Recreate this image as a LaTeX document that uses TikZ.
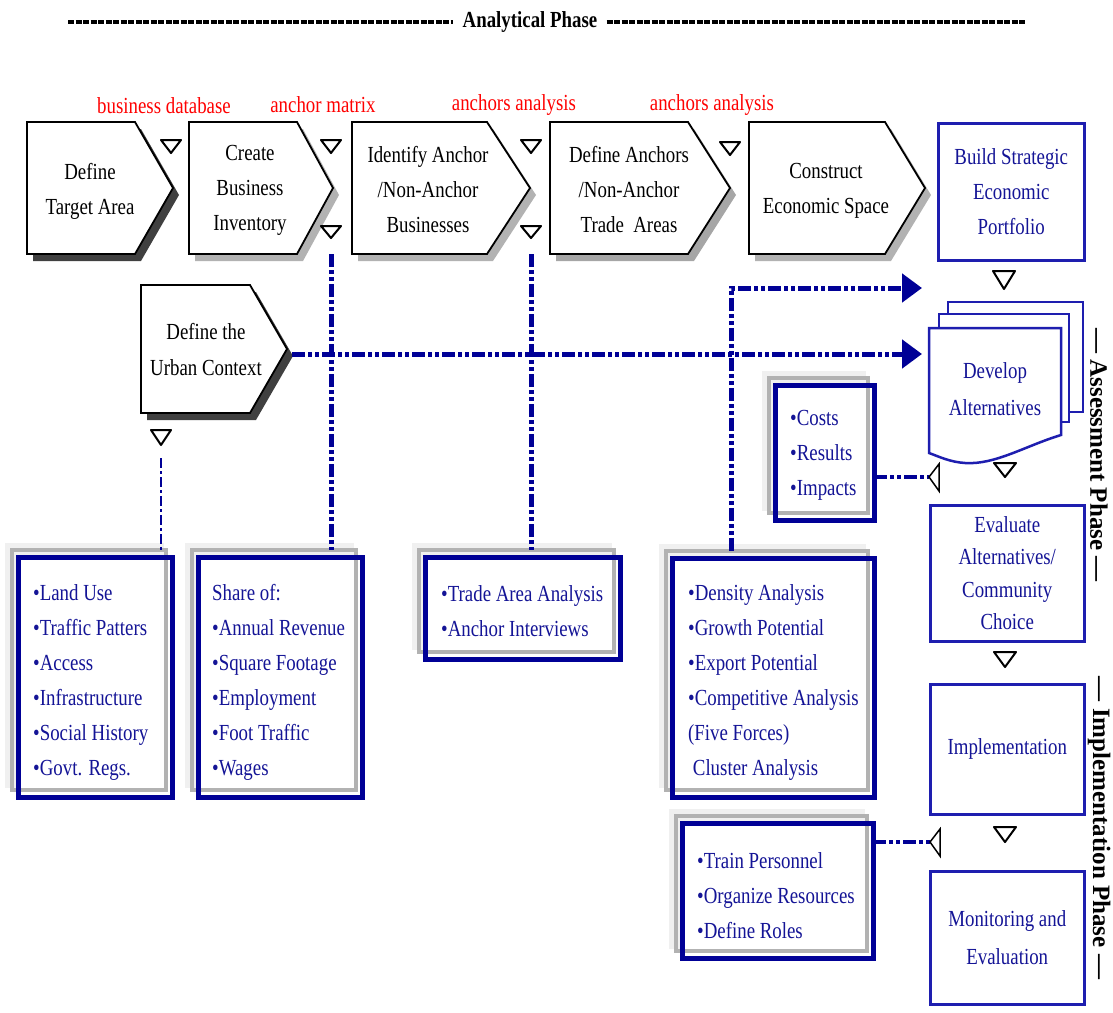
\documentclass[tikz,border=0pt]{standalone}
\usepackage{fontspec}
\setmainfont[FakeStretch=0.82]{Liberation Serif}
\newfontfamily\vfont{Liberation Serif}
\usetikzlibrary{arrows.meta}
\definecolor{navy}{RGB}{0,0,150}
\definecolor{tblue}{RGB}{20,20,150}
\definecolor{fblue}{RGB}{30,30,175}
\tikzset{
 every node/.style={font=\fontsize{23}{35}\selectfont, inner sep=0pt},
 chevbody/.style={draw=black, line width=1.8pt, fill=white},
 chevtext/.style={align=center},
 redlabel/.style={text=red},
 markerstyle/.style={draw=black, line width=2pt, fill=white, line join=round},
 rbox/.style={draw=fblue, line width=2.5pt, fill=white, text=tblue, align=center, anchor=north west, inner sep=0pt},
 devbox/.style={draw=fblue, line width=2.5pt, fill=white},
 nframe/.style={draw=navy, line width=5pt, anchor=north west, inner sep=0pt, outer sep=0pt},
 ntext/.style={text=tblue, align=left, anchor=west},
 ddline/.style={draw=navy, line width=5pt, dash pattern=on 13pt off 3pt on 4pt off 3pt on 4pt off 3pt},
 thindd/.style={draw=navy, line width=1.5pt, dash pattern=on 10pt off 3pt on 3pt off 3pt},
 bigarrow/.style={-{Triangle[length=20pt,width=28pt]}},
 opentri/.style={draw=black, line width=1.5pt, fill=white},
 hdash/.style={draw=black, line width=4pt, dash pattern=on 6pt off 1.5pt},
 vtext/.style={font=\vfont\bfseries\fontsize{25}{28}\selectfont, rotate=-90},
}
% #1 name, #2 left, #3 body right, #4 tip, #5 top, #6 bottom, #7 shadow colour
\newcommand\mychev[7]{%
 \fill[#7] (#2+6,#5+7) -- (#3+6,#5+7) -- (#4+6,{(#5+#6)/2+7}) -- (#3+6,#6+7) -- (#2+6,#6+7) -- cycle;
 \draw[chevbody] (#2,#5) -- (#3,#5) -- (#4,{(#5+#6)/2}) -- (#3,#6) -- (#2,#6) -- cycle;
 \coordinate (#1tip) at (#4,{(#5+#6)/2});
}
% marker: x, top y, half width, height
\newcommand\tmark[4]{%
 \draw[markerstyle] (#1-#3,#2) -- (#1+#3,#2) -- (#1,#2+#4) -- cycle;
}
% navy framed box: name, x1, y1, x2, y2
\newcommand\navybox[5]{%
 \fill[gray!12] (#2-13,#3-14) rectangle (#4-8,#5-9);
 \fill[white] (#2,#3) rectangle (#4,#5);
 \draw[gray!60, line width=4pt] (#2-6,#3-7) rectangle (#4-6,#5-7);
 \node[nframe, minimum width=#4-#2, minimum height=#5-#3] (#1) at (#2,#3) {};
}
\newcommand\otri[1]{\draw[opentri] (#1) -- ++(10,-13) -- ++(0,27) -- cycle;}
\begin{document}
\begin{tikzpicture}[x=1pt,y=-1pt]
\useasboundingbox (0,0) rectangle (1113,1012);

% header
\node[font=\fontsize{23}{28}\selectfont\bfseries] (hdr) at (530,22) {Analytical Phase};
\coordinate (hl) at (68,22);
\coordinate (hr) at (1025,22);
\draw[hdash, shorten >=9pt] (hl) -- (hdr.west);
\draw[hdash, shorten <=9pt] (hdr.east) -- (hr);

% red labels
\node[redlabel] (r1) at (164,106) {business database};
\node[redlabel] (r2) at (323,105) {anchor matrix};
\node[redlabel] (r3) at (514,105) {anchors analysis};
\node[redlabel] (r4) at (712,105) {anchors analysis};

% chevrons
\mychev{c1}{27}{135}{173}{122}{254}{black!75}
\mychev{c2}{189}{297}{333}{122}{254}{gray!60}
\mychev{c3}{352}{487}{530}{122}{254}{gray!60}
\mychev{c4}{550}{688}{730}{122}{254}{gray!70}
\mychev{c5}{749}{885}{925}{122}{254}{gray!60}
\mychev{cu}{141}{250}{287}{285}{413}{black!75}
\node[chevtext] (t1) at (90,191) {Define\\Target Area};
\node[chevtext] (t2) at (250,190) {Create\\Business\\Inventory};
\node[chevtext] (t3) at (428,190) {Identify Anchor\\/Non-Anchor\\Businesses};
\node[chevtext] (t4) at (629,190) {Define Anchors\\/Non-Anchor\\Trade\ \ Areas};
\node[chevtext] (t5) at (826,191) {Construct\\Economic Space};
\node[chevtext, font=\fontsize{23}{36}\selectfont] (tu) at (206,350) {Define the\\Urban Context};

% markers
\tmark{171}{140}{10}{13}
\tmark{331}{140}{10}{13}
\tmark{331}{226}{10}{12}
\tmark{531}{140}{10}{13}
\tmark{531}{226}{10}{12}
\tmark{730}{142}{10}{13}
\tmark{161}{430}{10}{15}
\tmark{1004}{271}{11}{18}
\tmark{1005}{463}{11}{14}
\tmark{1005}{652}{11}{15}
\tmark{1005}{827}{11}{15}

% right column
\node[rbox, minimum width=146, minimum height=137] (build) at (937,122) {Build Strategic\\Economic\\Portfolio};
\draw[devbox] (948,302) rectangle (1083,412);
\draw[devbox] (939,314) rectangle (1069,422);
\draw[devbox] (929,328) -- (1061,328) -- (1061,435) .. controls (1025,446) and (995,465) .. (965,463) .. controls (950,462) and (940,457) .. (929,453) -- cycle;
\node[text=tblue, align=center, font=\fontsize{23}{37}\selectfont] (dev) at (995,389) {Develop\\Alternatives};
\node[rbox, minimum width=154, minimum height=136, font=\fontsize{23}{32.5}\selectfont] (eval) at (929,504) {Evaluate\\Alternatives/\\Community\\Choice};
\node[rbox, minimum width=154, minimum height=130] (impl) at (929,683) {Implementation};
\node[rbox, minimum width=154, minimum height=133, font=\fontsize{23}{38}\selectfont] (mon) at (929,870) {Monitoring and\\Evaluation};

% navy framed boxes
\navybox{land}{18}{557}{172}{797}
\navybox{share}{198}{557}{362}{797}
\navybox{trade}{425}{557}{620}{659}
\navybox{dens}{672}{558}{874}{797}
\navybox{costs}{775}{385}{874}{520}
\navybox{train}{682}{823}{873}{958}
\node[ntext] (landt) at (33,682) {•Land Use\\•Traffic Patters\\•Access\\•Infrastructure\\•Social History\\•Govt. Regs.};
\node[ntext] (sharet) at (212,682) {Share of:\\•Annual Revenue\\•Square Footage\\•Employment\\•Foot Traffic\\•Wages};
\node[ntext] (tradet) at (441,611) {•Trade Area Analysis\\•Anchor Interviews};
\node[ntext] (denst) at (688,682) {•Density Analysis\\•Growth Potential\\•Export Potential\\•Competitive Analysis\\(Five Forces)\\\ Cluster Analysis};
\node[ntext] (costst) at (790,455) {•Costs\\•Results\\•Impacts};
\node[ntext] (traint) at (697,896) {•Train Personnel\\•Organize Resources\\•Define Roles};

% connectors
\coordinate (l2) at (331,254);
\coordinate (l3) at (531,254);
\coordinate (ustart) at (292,354);
\coordinate (uend) at (922,354);
\coordinate (dtop) at (731,288);
\coordinate (pend) at (922,288);
\coordinate (umark) at (161,458);
\coordinate (ctri) at (929,477);
\coordinate (ttri) at (930,842);
\draw[ddline, shorten >=7pt] (l2) -- (l2 |- share.north);
\draw[ddline, shorten >=7pt] (l3) -- (l3 |- trade.north);
\draw[ddline, bigarrow] (ustart) -- (uend);
\draw[ddline, bigarrow, shorten <=7pt] (dens.north -| dtop) |- (pend);
\draw[thindd, shorten >=7pt] (umark) -- (umark |- land.north);
\draw[ddline, line width=4pt] (costs.east |- ctri) -- (ctri);
\draw[ddline, line width=4pt] (train.east |- ttri) -- (ttri);
\otri{ctri}
\otri{ttri}

% phase labels
\node[vtext] (ap) at (1099,455) {— Assessment Phase —};
\node[vtext] (ip) at (1099,828) {— Implementation Phase —};
\end{tikzpicture}
\end{document}
